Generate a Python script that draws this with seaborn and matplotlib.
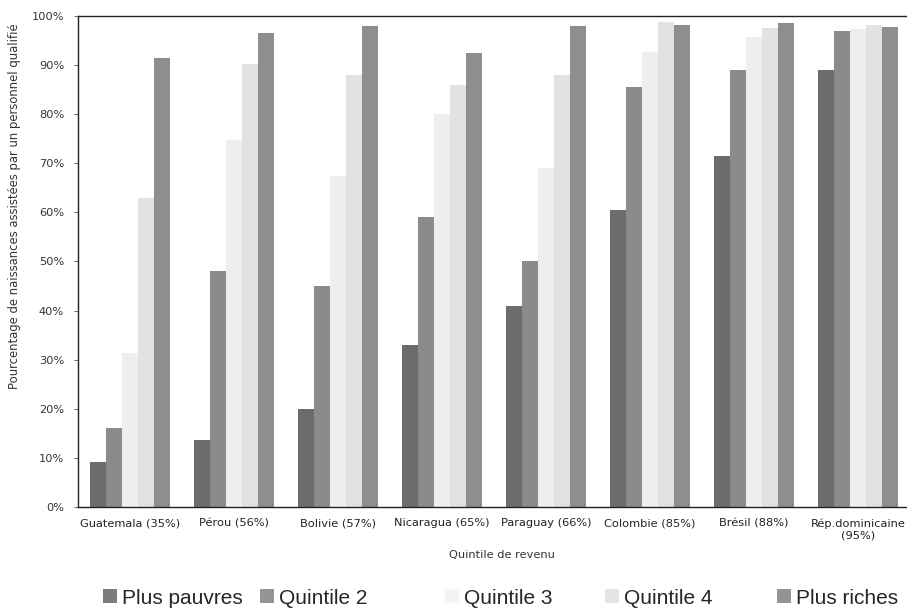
import matplotlib
matplotlib.use("Agg")
import matplotlib.pyplot as plt
from matplotlib.patches import Patch
import seaborn as sns
import pandas as pd

countries = ["Guatemala (35%)", "Pérou (56%)", "Bolivie (57%)", "Nicaragua (65%)",
             "Paraguay (66%)", "Colombie (85%)", "Brésil (88%)", "Rép.dominicaine\n(95%)"]
quintiles = ["Plus pauvres", "Quintile 2", "Quintile 3", "Quintile 4", "Plus riches"]

plus_pauvres = [9.2, 13.6, 20.0, 33.0, 41.0, 60.5, 71.5, 89.0]
quintile_2 = [16.0, 48.0, 45.0, 59.0, 50.0, 85.5, 89.0, 97.0]
quintile_3 = [31.4, 74.7, 67.5, 80.0, 69.0, 92.7, 95.7, 97.3]
quintile_4 = [63.0, 90.2, 88.0, 86.0, 88.0, 98.8, 97.5, 98.2]
plus_riches = [91.4, 96.5, 98.0, 92.5, 98.0, 98.2, 98.6, 97.8]

yticks = [0, 10, 20, 30, 40, 50, 60, 70, 80, 90, 100]
ytick_labels = [f"{t}%" for t in yticks]

colors = ["#6c6c6c", "#8b8b8b", "#eeeeee", "#e2e2e2", "#8e8e8e"]
legend_colors = ["#7c7c7c", "#959595", "#f4f4f4", "#e4e4e4", "#939393"]

series = [plus_pauvres, quintile_2, quintile_3, quintile_4, plus_riches]
df = pd.DataFrame({
    "pays": [c for s in series for c in countries],
    "quintile": [q for q, s in zip(quintiles, series) for _ in s],
    "valeur": [v for s in series for v in s],
})

sns.set_style("white")
plt.rcParams["font.family"] = ["DejaVu Sans"]

fig = plt.figure(figsize=(9.07, 6.12), dpi=100)
ax = fig.add_axes([0.086, 0.1716, 0.914, 0.8024])

sns.barplot(data=df, x="pays", y="valeur", hue="quintile", hue_order=quintiles,
            order=countries, palette=colors, width=0.77, gap=0, saturation=1,
            edgecolor="none", linewidth=0, ax=ax, legend=False)

ax.set_xlim(-0.5, 7.47)
ax.set_ylim(0, 100)
ax.set_yticks(yticks)
ax.set_yticklabels(ytick_labels, fontsize=8.2, color="#333333")
ax.tick_params(axis="y", which="both", left=True, length=3, width=0.6, color="#555555", pad=7)
ax.tick_params(axis="x", length=0, labelsize=8.2, labelcolor="#222222", pad=8)

for side in ["left", "bottom", "top"]:
    ax.spines[side].set_visible(True)
    ax.spines[side].set_color("#222222")
    ax.spines[side].set_linewidth(1.0)
ax.spines["right"].set_visible(False)

ax.set_xlabel("Quintile de revenu", fontsize=8.2, color="#333333")
ax.xaxis.set_label_coords(0.511, -0.087)
ax.set_ylabel("Pourcentage de naissances assistées par un personnel qualifié",
              fontsize=8.4, color="#333333")
ax.yaxis.set_label_coords(-0.077, 0.613)
ax.yaxis.label.set_verticalalignment("center")

# one legend entry per slot, spread along the bottom
legend_x = [103, 260, 445, 605, 777]
for x, c, q in zip(legend_x, legend_colors, quintiles):
    fig.legend(handles=[Patch(facecolor=c, edgecolor="none", label=q)],
               loc="center left", bbox_to_anchor=(x / 907, 1 - 598 / 612),
               frameon=False, borderpad=0, borderaxespad=0,
               prop={"family": ["Liberation Sans", "DejaVu Sans"], "size": 15},
               handlelength=0.68, handleheight=0.68, handletextpad=0.25)

fig.savefig("out.png", dpi=100)
